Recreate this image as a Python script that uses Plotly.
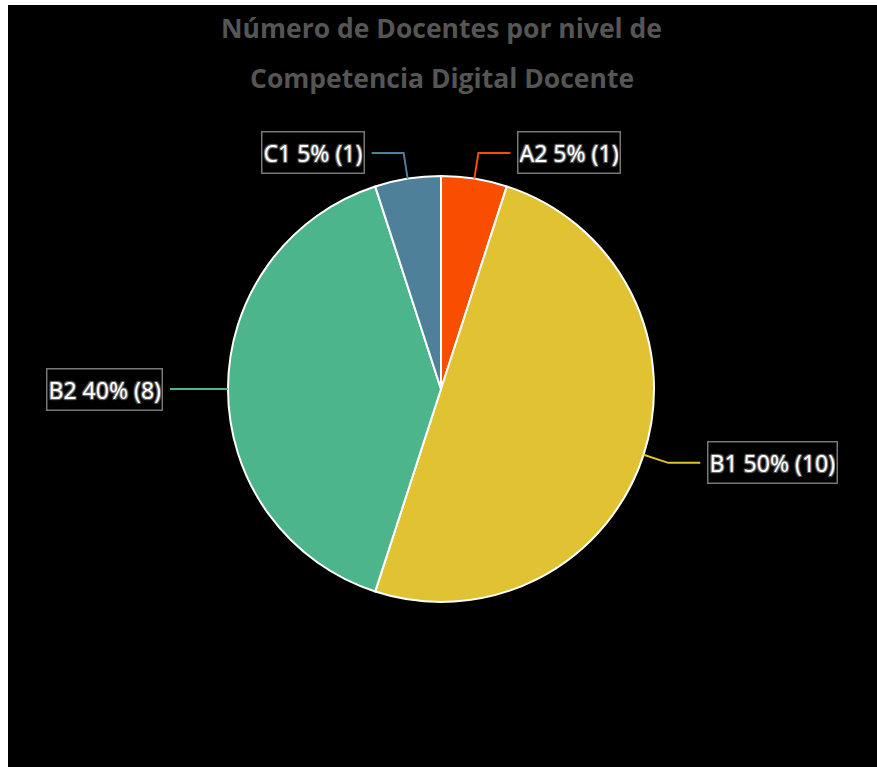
import math
import plotly.graph_objects as go

# ---- data ----
levels = ["A2", "B1", "B2", "C1"]
counts = [1, 10, 8, 1]
colors = ["#F94D00", "#E1C233", "#4DB58C", "#4E8099"]
title_lines = ["Número de Docentes por nivel de", "Competencia Digital Docente"]

W, H = 877, 767
CX, CY, R = 441, 389, 213


def px(x):
    return x / W


def py(y):
    return 1 - y / H


fig = go.Figure(
    go.Pie(
        labels=levels,
        values=counts,
        sort=False,
        direction="clockwise",
        rotation=0,
        marker=dict(colors=colors, line=dict(color="white", width=2)),
        textinfo="none",
        hoverinfo="label+value+percent",
        domain=dict(x=[px(CX - R), px(CX + R)], y=[py(CY + R), py(CY - R)]),
        showlegend=False,
    )
)

shapes = [
    dict(type="rect", xref="paper", yref="paper", x0=px(8), x1=px(W + 5), y0=py(H + 5), y1=py(5),
         fillcolor="black", line=dict(width=0), layer="below")
]
annotations = []
total = sum(counts)
cum = 0
shadow = "-1px -1px 1px #666, 1px -1px 1px #666, -1px 1px 1px #666, 1px 1px 1px #666"
for lab, cnt, col in zip(levels, counts, colors):
    mid = (cum + cnt / 2) / total
    cum += cnt
    th = 2 * math.pi * mid
    s, c = math.sin(th), math.cos(th)
    side = 1 if s > 1e-9 else -1
    ex, ey = CX + R * s, CY - R * c
    bx, by = CX + (R + 26) * s, CY - (R + 26) * c
    fx = bx + side * 32
    shapes.append(dict(type="path", xref="paper", yref="paper",
                       path=f"M {px(ex)},{py(ey)} L {px(bx)},{py(by)} L {px(fx)},{py(by)}",
                       line=dict(color=col, width=2)))
    pct = round(cnt / total * 100)
    annotations.append(dict(
        x=px(fx + side * 7), y=py(by), xref="paper", yref="paper",
        xanchor="left" if side > 0 else "right", yanchor="middle",
        text=f"{lab} {pct}% ({cnt})", showarrow=False,
        font=dict(family="Noto Sans", size=23, color="white", shadow=shadow),
        bordercolor="#777", borderwidth=1.5, borderpad=1, height=38,
    ))

for i, t in enumerate(title_lines):
    annotations.append(dict(
        x=px(442), y=py(28 + 50 * i), xref="paper", yref="paper", xanchor="center", yanchor="middle",
        text=f"<b>{t}</b>", showarrow=False,
        font=dict(family="Open Sans", size=26.5, color="#555555", weight=800),
    ))

fig.update_layout(
    width=W, height=H,
    margin=dict(l=0, r=0, t=0, b=0),
    paper_bgcolor="white",
    plot_bgcolor="black",
    shapes=shapes,
    annotations=annotations,
)

fig.write_html(
    "out.html",
    config={"displayModeBar": False},
    post_script="document.body.style.margin='0';document.body.style.overflow='hidden';",
)
